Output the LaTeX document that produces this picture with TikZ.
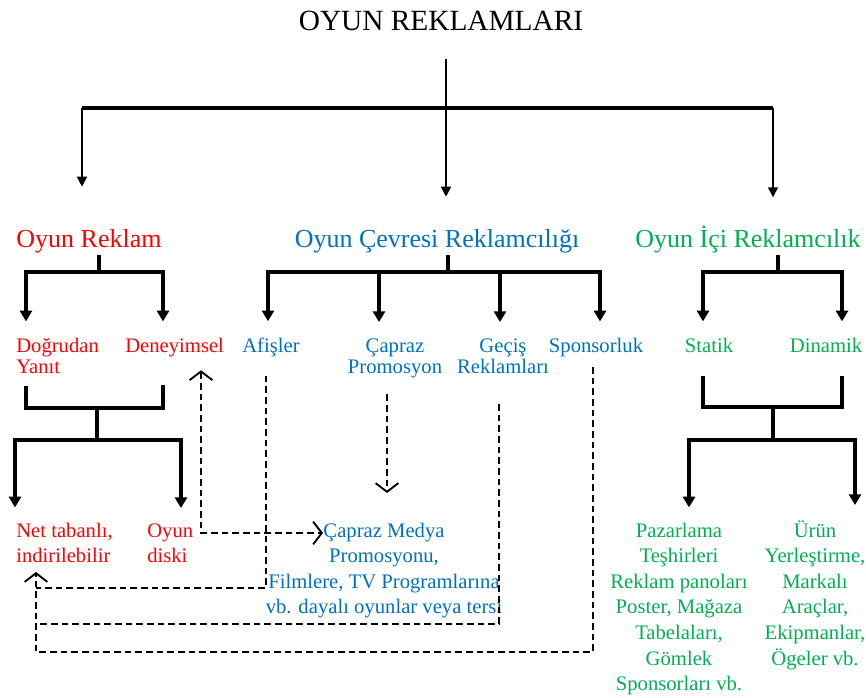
\documentclass[tikz,border=0pt]{standalone}
\usepackage{fontspec}
\setmainfont{Liberation Serif}
\usepackage{tikz}
\usetikzlibrary{arrows.meta}

\definecolor{adred}{RGB}{255,0,0}
\definecolor{adblue}{RGB}{0,112,192}
\definecolor{adgreen}{RGB}{0,176,80}

\begin{document}
\begin{tikzpicture}[x=0.75pt,y=0.75pt,yscale=-1,xscale=1,
    head/.style={inner sep=0.75pt,font=\fontsize{22}{26}\selectfont},
    group/.style={inner sep=0.75pt,font=\fontsize{19.5}{23}\selectfont},
    leaf/.style={inner sep=0.75pt,font=\fontsize{15.5}{16.2}\selectfont},
    item/.style={inner sep=0.75pt,font=\fontsize{15.5}{19.2}\selectfont},
    top bar/.style={line width=3pt},
    thin line/.style={line width=1.1pt},
    thin drop/.style={line width=1.1pt,-{Triangle[length=7.5pt,width=7.5pt]}},
    bar/.style={line width=2.3pt},
    drop/.style={line width=2.3pt,-{Triangle[length=8pt,width=9pt]}},
    drop both/.style={line width=2.3pt,{Triangle[length=8pt,width=9pt]}-{Triangle[length=8pt,width=9pt]}},
    link/.style={line width=0.8pt,dash pattern=on 5pt off 3pt},
    link to/.style={link,-{Straight Barb[length=6.5pt,width=17pt,line width=1.4pt]}},
    link both/.style={link,{Straight Barb[length=6.5pt,width=17pt,line width=1.4pt]}-{Straight Barb[length=6.5pt,width=17pt,line width=1.4pt]}}
]
    \useasboundingbox (0,0) rectangle (866,698);

    % Text Node
    \node [head,anchor=base] (title) at (441,31) {OYUN REKLAMLARI};
    % Text Node
    \node [group,anchor=base,text=adred] (oyunreklam) at (89,248) {Oyun Reklam};
    % Text Node
    \node [group,anchor=base,text=adblue] (cevre) at (437,248) {Oyun Çevresi Reklamcılığı};
    % Text Node
    \node [group,anchor=base,text=adgreen] (ici) at (748,248) {Oyun İçi Reklamcılık};

    % Text Node (base = last line)
    \node [leaf,anchor=base west,align=left,text=adred] (dogrudan) at (15,373.6) {Doğrudan\\Yanıt};
    % Text Node
    \node [leaf,anchor=base west,text=adred] (deneyimsel) at (124,352) {Deneyimsel};
    % Text Node
    \node [leaf,anchor=base,text=adblue] (afisler) at (271,352) {Afişler};
    % Text Node
    \node [leaf,anchor=base,align=center,text=adblue] (capraz) at (395,373.6) {Çapraz\\Promosyon};
    % Text Node
    \node [leaf,anchor=base,align=center,text=adblue] (gecis) at (503,373.6) {Geçiş\\Reklamları};
    % Text Node
    \node [leaf,anchor=base,text=adblue] (sponsorluk) at (596,352) {Sponsorluk};
    % Text Node
    \node [leaf,anchor=base,text=adgreen] (statik) at (709,352) {Statik};
    % Text Node
    \node [leaf,anchor=base,text=adgreen] (dinamik) at (826,352) {Dinamik};

    % Text Node
    \node [item,anchor=base west,align=left,text=adred] (net) at (15,562.6) {Net tabanlı,\\indirilebilir};
    % Text Node
    \node [item,anchor=base west,align=left,text=adred] (disk) at (146,562.6) {Oyun\\diski};
    % Text Node
    \node [item,anchor=base,align=center,text=adblue] (medya) at (384,613.8) {Çapraz Medya\\Promosyonu,\\Filmlere, TV Programlarına\\vb. dayalı oyunlar veya tersi};
    % Text Node
    \node [item,anchor=base,align=center,text=adgreen] (pazarlama) at (679,690.6) {Pazarlama\\Teşhirleri\\Reklam panoları\\Poster, Mağaza\\Tabelaları,\\Gömlek\\Sponsorları vb.};
    % Text Node
    \node [item,anchor=base,align=center,text=adgreen] (urun) at (815,665) {Ürün\\Yerleştirme,\\Markalı\\Araçlar,\\Ekipmanlar,\\Ögeler vb.};

    % bar points
    \coordinate (j0) at (446,108);
    \coordinate (a1) at (82,108);
    \coordinate (a3) at (773,108);
    \coordinate (b0) at (99,272);
    \coordinate (b1) at (26,272);
    \coordinate (b2) at (163,272);
    \coordinate (g0) at (448,272);
    \coordinate (g1) at (268,272);
    \coordinate (g2) at (379,272);
    \coordinate (g3) at (500,272);
    \coordinate (g4) at (600,272);
    \coordinate (i0) at (778,272);
    \coordinate (i1) at (703,272);
    \coordinate (i2) at (842,272);
    \coordinate (c0) at (97,408);
    \coordinate (d0) at (97,440);
    \coordinate (d1) at (15,440);
    \coordinate (d2) at (181,440);
    \coordinate (e0) at (773,407);
    \coordinate (f0) at (773,440);
    \coordinate (f1) at (689,440);
    \coordinate (f2) at (855,440);

    %Shape: top tree
    \draw [thin line] ([yshift=19.5pt]title.south -| j0) -- (j0);
    \draw [top bar] (a1) -- (a3);
    \draw [thin drop,shorten >=31.5pt] (a1) -- (oyunreklam.north -| a1);
    \draw [thin drop,shorten >=24pt] (j0) -- (cevre.north -| j0);
    \draw [thin drop,shorten >=21pt] (a3) -- (ici.north -| a3);

    %Shape: second level
    \draw [bar] (oyunreklam.south -| b0) -- (b0);
    \draw [drop both,shorten <=11.25pt,shorten >=11.25pt] (dogrudan.north -| b1) |- (b0) -| (deneyimsel.north -| b2);
    \draw [bar] (cevre.south -| g0) -- (g0);
    \draw [drop both,shorten <=11.25pt,shorten >=11.25pt] (afisler.north -| g1) |- (g0) -| (sponsorluk.north -| g4);
    \draw [drop,shorten >=11.25pt] (g2) -- (capraz.north -| g2);
    \draw [drop,shorten >=11.25pt] (g3) -- (gecis.north -| g3);
    \draw [bar] (ici.south -| i0) -- (i0);
    \draw [drop both,shorten <=11.25pt,shorten >=11.25pt] (statik.north -| i1) |- (i0) -| (dinamik.north -| i2);

    %Shape: third level
    \draw [bar,shorten <=8.25pt,shorten >=20.6pt] (dogrudan.south -| b1) |- (c0) -| (deneyimsel.south -| b2);
    \draw [bar] (c0) -- (d0);
    \draw [drop both,shorten <=10.5pt,shorten >=10.5pt] (net.north -| d1) |- (d0) -| (disk.north -| d2);
    \draw [bar,shorten <=17.25pt,shorten >=17.25pt] (statik.south -| i1) |- (e0) -| (dinamik.south -| i2);
    \draw [bar] (e0) -- (f0);
    \draw [drop both,shorten <=10.5pt,shorten >=10.5pt] (pazarlama.north -| f1) |- (f0) -| (urun.north -| f2);

    % dashed links
    \coordinate (lA) at (201,533);
    \coordinate (mA) at (323,533);
    \coordinate (lB) at (266,588);
    \coordinate (lC) at (499,624);
    \coordinate (lD) at (593,652);
    \coordinate (lE) at (387,493);
    \coordinate (lN) at (36,572);
    \draw [link both,shorten <=9.4pt] (deneyimsel.south -| lA) -- (lA) -- (mA);
    \draw [link,shorten <=13.5pt] (afisler.south -| lB) -- (lB) -- (lB -| lN);
    \draw [link,shorten <=21.75pt] (gecis.south -| lC) -- (lC) -- (lC -| lN);
    \draw [link to,shorten <=7pt] (sponsorluk.south -| lD) -- (lD) -| (lN);
    \draw [link to,shorten <=11.25pt] (capraz.south -| lE) -- (lE);

\end{tikzpicture}
\end{document}
